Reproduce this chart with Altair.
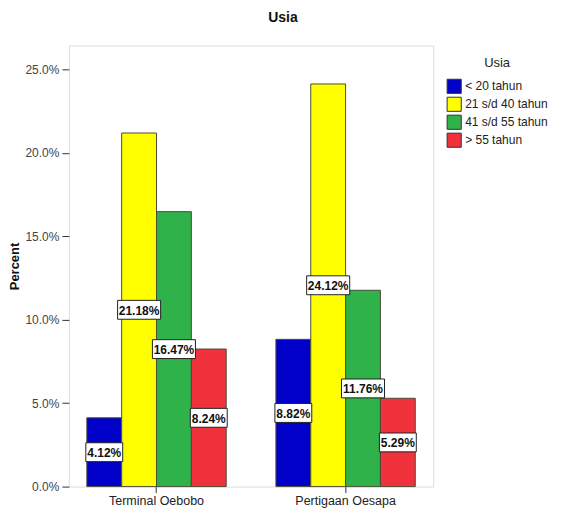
import altair as alt
import pandas as pd

categories = ["Terminal Oebobo", "Pertigaan Oesapa"]
series = ["< 20 tahun", "21 s/d 40 tahun", "41 s/d 55 tahun", "> 55 tahun"]
terminal_oebobo = [4.12, 21.18, 16.47, 8.24]
pertigaan_oesapa = [8.82, 24.12, 11.76, 5.29]
colors = ["#0000c8", "#ffff00", "#2fb24a", "#f0323c"]
y_ticks = [0, 5, 10, 15, 20, 25]

rows = []
for cat, vals in zip(categories, [terminal_oebobo, pertigaan_oesapa]):
    for s, v in zip(series, vals):
        rows.append({"lokasi": cat, "usia": s, "pct": v})
df = pd.DataFrame(rows)

FONT = "Liberation Sans"

x_enc = alt.X(
    "lokasi:N",
    sort=categories,
    title=None,
    scale=alt.Scale(paddingInner=0.263, paddingOuter=0.095),
    axis=alt.Axis(labelAngle=0, labelFontSize=12.5, labelColor="#222", labelFont=FONT,
                  tickSize=6, tickColor="#333", domain=False, labelPadding=2),
)
xo_enc = alt.XOffset("usia:N", sort=series, scale=alt.Scale(paddingInner=0, paddingOuter=0))
y_scale = alt.Scale(domain=[0, 26.43], nice=False, zero=True)

bars = alt.Chart(df).mark_bar(stroke="#4a4a3a", strokeWidth=1).encode(
    x=x_enc,
    xOffset=xo_enc,
    y=alt.Y(
        "pct:Q",
        scale=y_scale,
        title="Percent",
        axis=alt.Axis(values=y_ticks, labelExpr="format(datum.value, '.1f') + '%'",
                      grid=False, domain=False, tickSize=7, tickColor="#333",
                      labelFontSize=12, labelColor="#444", labelFont=FONT, labelPadding=3,
                      titleFont=FONT, titleFontSize=13, titleFontWeight="bold",
                      titleColor="#111", titlePadding=3),
    ),
    color=alt.Color(
        "usia:N",
        sort=series,
        scale=alt.Scale(domain=series, range=colors),
        legend=alt.Legend(
            title="Usia", orient="none", legendX=378, legendY=12,
            titleFont=FONT, titleFontSize=13, titleFontWeight="normal", titleColor="#222",
            titleAnchor="middle", titlePadding=8,
            labelFont=FONT, labelFontSize=12, labelColor="#222", labelOffset=3,
            symbolType="square", symbolSize=200, symbolStrokeColor="#333",
            symbolStrokeWidth=1, symbolOpacity=1, rowPadding=-3,
        ),
    ),
)

base_lbl = alt.Chart(df).transform_calculate(
    mid="datum.pct / 2",
    txt="format(datum.pct, '.2f') + '%'",
    ln="length(format(datum.pct, '.2f')) > 4 ? 'long' : 'short'",
)

boxes = base_lbl.mark_point(filled=True, fill="white", stroke="#222", strokeWidth=1,
                            opacity=1, size=1936).encode(
    x=x_enc,
    xOffset=xo_enc,
    y=alt.Y("mid:Q", scale=y_scale),
    shape=alt.Shape(
        "ln:N",
        scale=alt.Scale(
            domain=["long", "short"],
            range=["M-0.98,-0.43L0.98,-0.43L0.98,0.43L-0.98,0.43Z",
                   "M-0.84,-0.43L0.84,-0.43L0.84,0.43L-0.84,0.43Z"],
        ),
        legend=None,
    ),
)

texts = base_lbl.mark_text(font=FONT, fontSize=12, fontWeight="bold", color="#111",
                           baseline="middle", align="center", dy=1).encode(
    x=x_enc,
    xOffset=xo_enc,
    y=alt.Y("mid:Q", scale=y_scale),
    text="txt:N",
)

chart = alt.layer(bars, boxes, texts).properties(
    width=365,
    height=442,
    title=alt.TitleParams("Usia", font=FONT, fontSize=14, fontWeight="bold", color="#111",
                          anchor="middle", frame="group", dx=32, offset=20),
    autosize=alt.AutoSizeParams(type="none"),
    padding={"left": 61, "top": 37, "right": 120, "bottom": 24},
).configure_view(
    fill="#f0f0f0", stroke="#6a6a6a", strokeWidth=1
).configure(background="white")

chart.save("out.html", embed_options={"renderer": "svg", "actions": False})
